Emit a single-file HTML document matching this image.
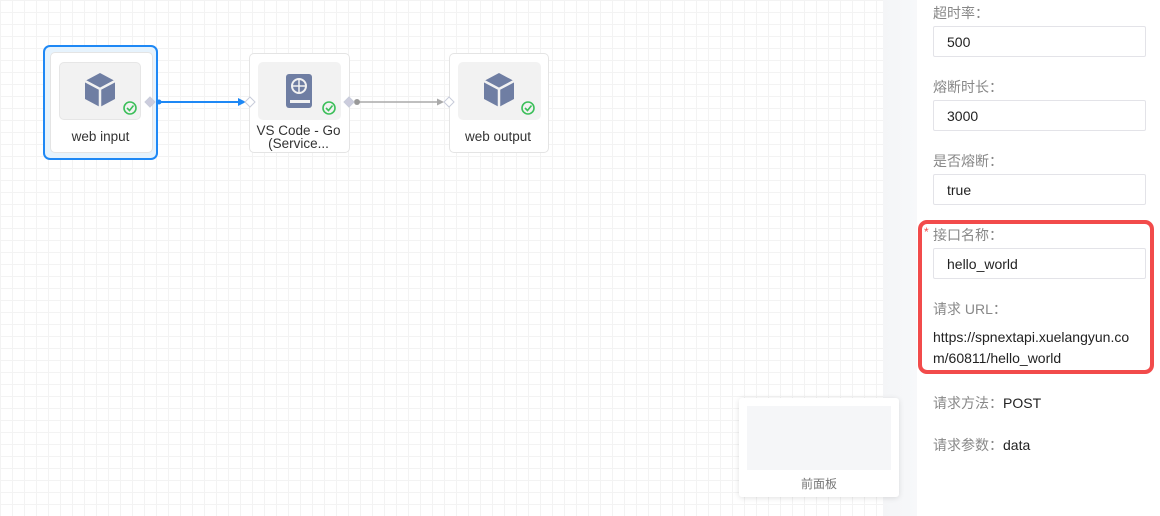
<!DOCTYPE html>
<html><head><meta charset="utf-8"><style>
body{margin:0;width:1160px;height:516px;position:relative;overflow:hidden;font-family:"Liberation Sans","Noto Sans CJK SC",sans-serif;background:#fff}
.canvas{position:absolute;left:0;top:0;width:883px;height:516px;background-color:#fff;
background-image:linear-gradient(#f3f3f3 1px,transparent 1px),linear-gradient(90deg,#f3f3f3 1px,transparent 1px);background-size:12px 12px}
.strip{position:absolute;left:883px;top:0;width:34px;height:516px;background:linear-gradient(90deg,#f4f5f7,#f7f8fa)}
.panel{position:absolute;left:917px;top:0;width:243px;height:516px;background:#fff}
.abs{position:absolute}
.card{position:absolute;background:#fff;border:1px solid #e4e4e4;border-radius:5px}
.ib{position:absolute;background:#f2f2f2;border:1px solid #e6e6e6;border-radius:5px}
.lbl{position:absolute;font-size:13.5px;color:#333;text-align:center;line-height:15px}
.fl{position:absolute;left:933px;font-size:14px;color:#888}
.inp{position:absolute;left:933px;width:213px;height:31px;border:1px solid #e3e3e8;border-radius:2px;font-size:14px;color:#222;line-height:30px;box-sizing:border-box;padding-left:13px}
.txt{position:absolute;left:933px;font-size:14px;color:#222}
</style></head><body>
<div class="canvas"></div><div class="strip"></div><div class="panel"></div>

<div class="abs" style="left:43px;top:45px;width:111px;height:111px;border:2px solid #1e88f5;border-radius:7px;background:#e6f3fd"></div>
<div class="card" style="left:50px;top:52px;width:101px;height:99px"></div>
<div class="ib" style="left:59px;top:62px;width:80px;height:56px"></div>
<div class="lbl" style="left:50px;top:129px;width:101px">web input</div>

<div class="card" style="left:249px;top:53px;width:99px;height:98px"></div>
<div class="ib" style="left:258px;top:62px;width:81px;height:56px;border-color:#f2f2f2"></div>
<div class="lbl" style="left:249px;top:124px;width:99px;line-height:13px">VS Code - Go<br>(Service...</div>

<div class="card" style="left:449px;top:53px;width:98px;height:98px"></div>
<div class="ib" style="left:458px;top:62px;width:81px;height:56px;border-color:#f2f2f2"></div>
<div class="lbl" style="left:449px;top:129px;width:98px">web output</div>

<svg class="abs" style="left:0;top:0" width="883" height="516">
<defs><g id="cube"><path d="M0,-17 L15,-9 L15,9 L0,17 L-15,9 L-15,-9 Z" fill="#6f7ea3"/><path d="M-15,-9 L0,-1 L15,-9 M0,-1 L0,17" stroke="#f2f2f2" stroke-width="2.5" fill="none"/></g>
<g id="chk"><circle r="6" fill="none" stroke="#3cbf5a" stroke-width="1.6"/><path d="M-3,0 L-0.5,2.5 L3.5,-2.5" stroke="#3cbf5a" stroke-width="1.6" fill="none"/></g></defs>
<use href="#cube" x="100" y="90"/><use href="#cube" x="499" y="90"/>
<rect x="286" y="74" width="26" height="34" rx="3" fill="#6f7ea3"/><rect x="290" y="100" width="20" height="3" fill="#f2f2f2"/><circle cx="299" cy="86" r="7" fill="none" stroke="#f2f2f2" stroke-width="2"/><path d="M292,86h14M299,79v14" stroke="#f2f2f2" stroke-width="1.5"/>
<use href="#chk" x="130" y="108"/><use href="#chk" x="329" y="108"/><use href="#chk" x="528" y="108"/>
<path d="M159,102 L240,102" stroke="#1e88f5" stroke-width="2"/><path d="M238,98 L246,102 L238,106Z" fill="#1e88f5"/><circle cx="159" cy="102" r="2.5" fill="#1e88f5"/>
<path d="M356,102 L440,102" stroke="#aaa" stroke-width="1.5"/><path d="M437,98.5 L444,102 L437,105.5Z" fill="#aaa"/><circle cx="357" cy="102" r="3" fill="#999"/>
<g fill="#fff" stroke="#c8ccda"><path d="M150,97 L155,102 L150,107 L145,102Z" fill="#ccd"/><path d="M250,97 L255,102 L250,107 L245,102Z"/><path d="M349,97 L354,102 L349,107 L344,102Z" fill="#ccd"/><path d="M449,97 L454,102 L449,107 L444,102Z"/></g>
</svg>

<div class="abs" style="left:739px;top:398px;width:160px;height:99px;background:#fff;border-radius:3px;box-shadow:0 1px 6px rgba(0,0,0,.12)"></div>
<div class="abs" style="left:747px;top:406px;width:144px;height:64px;background:#f5f6f8"></div>
<div class="abs" style="left:739px;top:475px;width:160px;text-align:center;font-size:12px;color:#777">前面板</div>

<div class="fl" style="top:3px">超时率：</div>
<div class="inp" style="top:26px">500</div>
<div class="fl" style="top:77px">熔断时长：</div>
<div class="inp" style="top:100px">3000</div>
<div class="fl" style="top:151px">是否熔断：</div>
<div class="inp" style="top:174px">true</div>
<div class="abs" style="left:918px;top:220px;width:228px;height:146px;border:4px solid #f24b4b;border-radius:9px"></div>
<div class="abs" style="left:924px;top:225px;color:#f24b4b;font-size:12px">*</div>
<div class="fl" style="top:225px">接口名称：</div>
<div class="inp" style="top:248px">hello_world</div>
<div class="fl" style="top:299px">请求 URL：</div>
<div class="txt" style="top:327px;line-height:21px">https://spnextapi.xuelangyun.co<br>m/60811/hello_world</div>
<div class="txt" style="top:393px"><span style="color:#888">请求方法：</span>POST</div>
<div class="txt" style="top:435px"><span style="color:#888">请求参数：</span>data</div>
</body></html>
